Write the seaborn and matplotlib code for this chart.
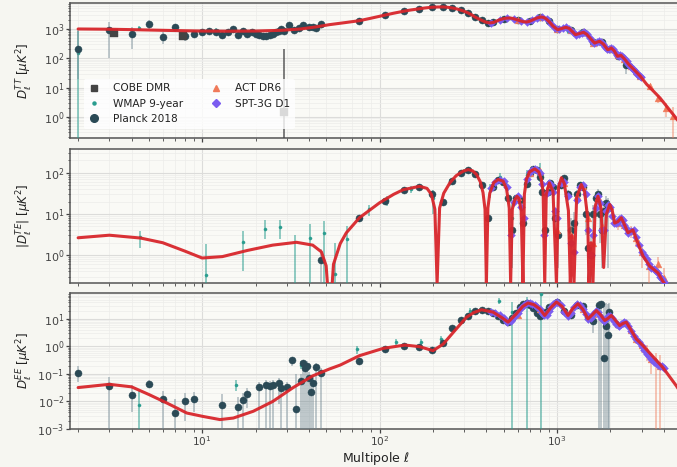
import numpy as np
import pandas as pd
import matplotlib
matplotlib.use("Agg")
import matplotlib.pyplot as plt
import seaborn as sns
from matplotlib.lines import Line2D
from matplotlib.ticker import LogLocator

# ---------------------------------------------------------------- theory curves
tt_theory_ell = [2, 3, 4, 6, 8, 10, 14, 20, 28, 36, 44, 52, 64, 77, 90, 106, 120, 136, 150, 166,
                 180, 196, 212, 227, 242, 258, 274, 289, 302, 316, 330, 345, 360, 376, 396, 418,
                 440, 460, 476, 500, 520, 541, 562, 590, 616, 645, 674, 705, 735, 775, 817, 845,
                 870, 907, 950, 1008, 1060, 1120, 1170, 1220, 1270, 1340, 1410, 1470, 1540, 1630,
                 1690, 1740, 1830, 1930, 1980, 2020, 2100, 2190, 2240, 2290, 2400, 2550, 2750,
                 2950, 3200, 3500, 3810, 4150, 4520, 5000]
tt_theory_dl = [1000, 980, 950, 900, 870, 850, 840, 850, 900, 1000, 1180, 1400, 1650, 1920, 2350,
                2930, 3450, 4010, 4450, 4850, 5200, 5500, 5620, 5650, 5500, 5200, 4800, 4340, 3950,
                3510, 3050, 2570, 2250, 1980, 1720, 1600, 1680, 1900, 2080, 2250, 2340, 2370, 2300,
                2100, 1920, 1780, 1730, 1850, 2080, 2400, 2570, 2450, 2200, 1730, 1250, 950, 1030,
                1140, 1050, 820, 640, 700, 770, 660, 480, 330, 360, 380, 300, 197, 205, 225, 180,
                117, 120, 127, 95, 60, 38, 24.4, 13, 7.5, 4.4, 2.3, 1.2, 0.55]

te_theory_ell = [2, 3, 4.5, 6, 8, 10, 13, 18, 25, 34, 42, 47, 50, 52.5, 55, 60, 65, 77, 100, 120,
                 136, 168, 185, 196, 205, 211, 218, 230, 249, 270, 296, 316, 335, 352, 370, 383,
                 393, 400, 408, 418, 440, 466, 497, 520, 538, 548, 560, 578, 595, 610, 628, 643,
                 655, 673, 700, 749, 790, 815, 835, 853, 870, 905, 950, 993, 1020, 1059, 1100,
                 1160, 1189, 1215, 1247, 1290, 1371, 1430, 1490, 1514, 1555, 1595, 1640, 1702,
                 1770, 1833, 1900, 1982, 2050, 2113, 2200, 2305, 2400, 2513, 2600, 2680, 2850,
                 3055, 3330, 3706, 3955, 4400, 5000]
te_theory_dl = [2.64, 3.05, 2.6, 2.0, 1.25, 0.85, 0.92, 1.3, 1.75, 2.05, 1.75, 1.2, 0.55, 0.03,
                0.6, 1.9, 3.5, 8.1, 18.7, 30, 39, 47, 42, 30, 13, 0.2, 14, 32, 57, 85, 110, 120,
                112, 91, 60, 33, 13, 0.2, 14, 32, 58, 69, 63, 40, 14, 0.2, 13, 22, 27, 24, 12,
                0.2, 30, 70, 105, 125, 105, 70, 35, 0.2, 30, 57, 35, 0.2, 45, 76, 55, 12, 0.2, 3,
                0.2, 25, 52, 35, 8, 0.2, 2, 0.2, 15, 27, 14, 0.5, 10, 17, 12, 6, 6.5, 8.1, 5.5,
                3.5, 3.8, 4.1, 2.0, 0.95, 0.54, 0.37, 0.23, 0.12, 0.06]

ee_theory_ell = [2, 3, 4, 5, 6.3, 8.2, 10, 12.6, 15, 19.4, 25, 32.6, 42, 52, 60, 77, 105, 139,
                 168, 200, 228, 260, 309, 340, 375, 436, 490, 530, 590, 640, 687, 740, 800, 853,
                 920, 993, 1070, 1154, 1230, 1313, 1400, 1495, 1580, 1667, 1760, 1857, 1940, 2024,
                 2140, 2256, 2350, 2459, 2800, 3055, 3955, 4720, 5000]
ee_theory_dl = [0.032, 0.042, 0.034, 0.018, 0.0089, 0.0038, 0.0029, 0.0022, 0.0025, 0.0044,
                0.010, 0.032, 0.085, 0.15, 0.21, 0.46, 0.85, 1.12, 0.98, 0.7, 1.2, 3.2, 11.5, 17,
                21.4, 17.6, 11, 7.6, 15.2, 28, 37.6, 33, 23, 13.3, 25, 41, 28, 13.3, 24, 35.5, 22,
                10, 14, 20, 14, 8.7, 10.5, 13.3, 8.7, 5.7, 6.8, 7.6, 1.86, 1.06, 0.17, 0.036, 0.02]

# ---------------------------------------------------------------- TT band powers
cobe_tt_ell = [3.2, 7.8, 29]
cobe_tt_dl = [730, 590, 1.5]
cobe_tt_lo = [520, 470, 0.001]
cobe_tt_hi = [920, 720, 200]

wmap_tt_ell = [2, 4.4, 12, 25, 47, 77, 137, 227, 316, 418, 541, 674, 817, 1008, 1150]
wmap_tt_dl = [150, 1080, 830, 800, 1300, 1900, 4000, 5600, 3500, 1620, 2350, 1750, 2500, 980, 830]
wmap_tt_lo = [0.001, 900, 600, 650, 1150, 1800, 3850, 5450, 3400, 1550, 2250, 1650, 2350, 880, 700]
wmap_tt_hi = [850, 1250, 1050, 950, 1450, 2000, 4150, 5750, 3600, 1700, 2450, 1850, 2650, 1080, 960]

planck_tt_ell = [2, 3, 4, 5, 6, 7, 8, 9, 10, 11, 12, 13, 14, 15, 16, 17, 18, 19, 20, 21, 22, 23,
                 24, 25, 26, 27, 28, 29, 31, 33, 35, 37, 40, 42, 44, 47, 77, 107, 137, 167, 197,
                 227, 257, 287, 317, 347, 377, 407, 437, 500, 600, 700, 800, 900, 1000, 1200,
                 1400, 1600, 1800, 2000, 2200, 2460]
planck_tt_dl = [215, 920, 680, 1450, 540, 1130, 590, 680, 790, 830, 760, 610, 800, 980, 620, 880,
                660, 800, 700, 620, 590, 560, 600, 650, 790, 820, 1000, 850, 1400, 900, 1050,
                1350, 1200, 1150, 1100, 1500, 1920, 2930, 4010, 4810, 5500, 5620, 5200, 4340,
                3510, 2570, 1980, 1650, 1680, 2250, 2000, 1850, 2550, 1800, 960, 900, 770, 360,
                370, 215, 115, 61]
planck_tt_lo = [20, 100, 200, 1000, 300, 800, 400, 480, 600, 650, 600, 470, 650, 820, 500, 740,
                550, 680, 600, 530, 500, 480, 520, 570, 700, 730, 900, 760, 1280, 820, 960, 1240,
                1110, 1060, 1020, 1400, 1850, 2850, 3920, 4720, 5400, 5520, 5100, 4260, 3440,
                2520, 1940, 1620, 1650, 2210, 1960, 1810, 2500, 1760, 940, 880, 750, 345, 350,
                200, 100, 30]
planck_tt_hi = [900, 1700, 1150, 2000, 800, 1500, 800, 900, 1000, 1020, 940, 760, 960, 1150, 760,
                1040, 790, 930, 810, 720, 690, 650, 690, 740, 890, 920, 1110, 950, 1530, 990,
                1150, 1470, 1300, 1250, 1190, 1610, 2000, 3010, 4100, 4900, 5600, 5720, 5300,
                4420, 3580, 2620, 2020, 1680, 1710, 2290, 2040, 1890, 2600, 1840, 980, 920, 790,
                375, 390, 230, 130, 80]

act_tt_ell = [600, 800, 1000, 1200, 1400, 1600, 1800, 2000, 2200, 2400, 2600, 2800, 2950, 3330,
              3710, 4130, 4505]
act_tt_dl = [2000, 2500, 960, 900, 770, 345, 370, 215, 125, 95, 55, 36, 24, 11, 4.4, 2.0, 1.05]
act_tt_lo = [1960, 2450, 940, 880, 755, 335, 360, 208, 120, 90, 52, 34, 20, 8.5, 3.0, 1.0, 0.001]
act_tt_hi = [2040, 2550, 980, 920, 785, 355, 380, 222, 130, 100, 58, 38, 28, 13.5, 5.8, 3.0, 2.2]

spt_tt_ell = [425, 475, 525, 575, 625, 675, 725, 775, 825, 875, 925, 975, 1025, 1075, 1125, 1175,
              1225, 1275, 1325, 1375, 1425, 1475, 1525, 1575, 1625, 1675, 1725, 1775, 1825, 1875,
              1925, 1975, 2025, 2075, 2125, 2175, 2225, 2275, 2325, 2375, 2425, 2475, 2525, 2575,
              2625, 2675, 2725, 2775, 2825, 2875, 2925, 2975]
spt_tt_dl = [1600, 2070, 2350, 2200, 1880, 1730, 2000, 2400, 2550, 2150, 1500, 1100, 970, 1080,
             1140, 1030, 800, 640, 680, 750, 770, 650, 510, 400, 335, 355, 380, 370, 305, 245,
             200, 205, 225, 200, 160, 125, 118, 125, 122, 105, 90, 78, 65, 56, 50, 44, 39, 34,
             30, 27, 25, 23]

# ---------------------------------------------------------------- TE band powers (|D_l|)
wmap_te_ell = [4.46, 10.5, 16.9, 22.6, 27.4, 33.3, 40.4, 48.5, 55.8, 65.6, 87, 110, 150, 200,
               250, 300, 350, 420, 480, 560, 680, 800]
wmap_te_dl = [2.75, 0.32, 2.1, 4.2, 4.9, 0.1, 2.6, 3.5, 0.34, 2.5, 12.9, 22, 40, 25, 60, 110,
              90, 40, 80, 8, 90, 110]
wmap_te_lo = [1.5, 0.001, 0.4, 2.5, 2.5, 0.001, 0.001, 0.001, 0.001, 0.001, 9, 16, 32, 10, 48,
              95, 75, 25, 60, 0.5, 60, 60]
wmap_te_hi = [3.8, 1.9, 3.8, 7.0, 7.2, 3.0, 5.6, 6.8, 2.0, 5.0, 17, 28, 48, 38, 72, 125, 105,
              55, 100, 20, 120, 170]

planck_te_ell = [47, 77, 107, 137, 167, 197, 227, 257, 287, 317, 347, 377, 407, 437, 467, 497,
                 527, 557, 587, 617, 647, 677, 707, 737, 767, 797, 827, 857, 887, 917, 947, 977,
                 1007, 1050, 1100, 1150, 1200, 1250, 1300, 1350, 1400, 1450, 1500, 1550, 1600,
                 1650, 1700, 1750, 1800, 1850, 1900, 1950]
planck_te_dl = [0.76, 7.8, 21, 38, 46, 30, 20, 62, 100, 118, 96, 50, 8, 45, 68, 60, 25, 4, 24, 22,
                6, 55, 100, 122, 118, 80, 35, 4, 35, 57, 45, 8, 3, 50, 74, 30, 4, 6, 30, 52, 45,
                10, 1.5, 1.0, 10, 25, 30, 10, 4, 12, 18, 14]
planck_te_lo = [0.2, 6.5, 19, 36, 44, 28, 18, 59, 97, 115, 93, 47, 5, 42, 65, 57, 22, 1.5, 20, 18,
                3, 50, 95, 117, 112, 75, 30, 1, 29, 51, 38, 3, 0.5, 42, 66, 22, 0.3, 1.5, 22, 44,
                36, 3, 0.1, 0.2, 3, 16, 20, 2, 0.5, 3, 8, 0.5]
planck_te_hi = [1.4, 9.2, 23, 40, 48, 32, 22, 65, 103, 121, 99, 53, 11, 48, 71, 63, 28, 6.5, 28, 26,
                9, 60, 105, 127, 124, 85, 40, 7, 41, 63, 52, 13, 6, 58, 82, 38, 8, 11, 38, 60, 54,
                17, 4, 3, 17, 34, 40, 18, 8, 21, 28, 24]

act_te_ell = [600, 700, 800, 900, 1000, 1100, 1200, 1300, 1400, 1500, 1600, 1700, 1800, 2000,
              2200, 2400, 2600, 2800, 3000, 3300, 3700, 4000]
act_te_dl = [26, 100, 110, 52, 4, 58, 3, 28, 48, 8, 2, 26, 5, 16, 6, 5.5, 3.8, 2.6, 1.2, 0.55,
             0.6, 0.28]
act_te_lo = [24, 96, 106, 48, 2, 54, 1, 24, 44, 5, 0.5, 22, 2, 13, 4, 4, 2.6, 1.6, 0.5, 0.2, 0.3,
             0.01]
act_te_hi = [28, 104, 114, 56, 6, 62, 5, 32, 52, 11, 4, 30, 8, 19, 8, 7, 5, 3.6, 1.9, 0.9, 0.9,
             0.5]

spt_te_ell = [425, 450, 475, 500, 525, 550, 575, 600, 625, 650, 675, 700, 725, 750, 775, 800,
              825, 850, 875, 900, 925, 950, 975, 1000, 1050, 1100, 1150, 1200, 1250, 1300, 1350,
              1400, 1450, 1500, 1550, 1600, 1650, 1700, 1750, 1800, 1850, 1900, 1950, 2000, 2050,
              2100, 2150, 2200, 2250, 2300, 2350, 2400, 2450, 2500, 2600, 2700, 2800, 2900, 3000,
              3100, 3200, 3300, 3400, 3500, 3600, 3700, 3800, 3900, 4000]
spt_te_dl = [43, 60, 68, 63, 45, 3, 20, 27, 15, 8, 70, 103, 120, 124, 115, 98, 55, 3, 32, 56, 50,
             35, 12, 8, 58, 60, 28, 2, 1.2, 22, 46, 50, 30, 4, 1.0, 3, 14, 27, 18, 4, 4, 12, 17,
             15, 9, 6, 6, 6.5, 7.5, 8, 7, 5.5, 4.5, 3.5, 3.8, 4.0, 2.7, 1.8, 1.2, 1.0, 0.8, 0.6,
             0.5, 0.45, 0.4, 0.37, 0.3, 0.26, 0.22]

# ---------------------------------------------------------------- EE band powers
wmap_ee_ell = [4.4, 15.5, 36, 74.5, 124, 171, 222, 323, 473, 555, 680, 810]
wmap_ee_dl = [0.0077, 0.040, 0.22, 0.8, 1.5, 1.5, 1.8, 19, 45, 17.7, 30, 83]
wmap_ee_lo = [0.0001, 0.025, 0.15, 0.55, 1.1, 1.1, 1.2, 13, 35, 0.0001, 0.0001, 0.0001]
wmap_ee_hi = [0.024, 0.062, 0.3, 1.05, 1.9, 1.9, 2.4, 25, 55, 40, 60, 120]

planck_ee_ell = [2, 3, 4, 5, 6, 7, 8, 9, 13, 16, 17, 18, 21, 23, 24, 25, 27, 28, 30, 32, 34, 36,
                 37, 38, 39, 40, 41, 42, 44, 47, 77, 107, 137, 167, 197, 227, 257, 287, 317, 347,
                 377, 407, 437, 467, 497, 527, 557, 587, 617, 647, 677, 707, 737, 767, 797, 827,
                 857, 900, 1000, 1100, 1200, 1300, 1400, 1500, 1597, 1725, 1780, 1835, 1900,
                 1950, 1960]
planck_ee_dl = [0.11, 0.036, 0.0174, 0.044, 0.0126, 0.0037, 0.0100, 0.0126, 0.0077, 0.0063,
                0.0115, 0.018, 0.033, 0.040, 0.036, 0.040, 0.048, 0.032, 0.033, 0.31, 0.0054,
                0.055, 0.25, 0.16, 0.2, 0.07, 0.022, 0.045, 0.18, 0.11, 0.3, 0.8, 1.05, 0.98,
                0.72, 1.3, 4.5, 9, 13, 19, 21, 19, 16, 13, 9, 7.5, 11, 17, 28, 36, 37, 32, 24, 16,
                13, 14, 18, 26, 40, 20, 14, 31, 30, 12, 8.7, 31, 35, 0.37, 5.3, 2.5, 17.6]
planck_ee_lo = [0.05, 0.0001, 0.004, 0.03, 0.0001, 0.0001, 0.002, 0.004, 0.0001, 0.0001, 0.0001,
                0.006, 0.0001, 0.0001, 0.0001, 0.0001, 0.008, 0.0001, 0.0001, 0.2, 0.0001,
                0.0001, 0.0001, 0.0001, 0.0001, 0.0001, 0.0001, 0.0001, 0.0001, 0.0001, 0.22,
                0.7, 0.95, 0.9, 0.65, 1.2, 4.2, 8.5, 12.5, 18.3, 20.2, 18.2, 15.2, 12.2, 8.4,
                6.9, 10.2, 16, 26.5, 34.5, 35.5, 30.5, 22.5, 14.8, 11.5, 12, 15, 23, 36, 17, 11,
                26, 24, 7, 3, 0.0001, 0.0001, 0.0001, 0.0001, 0.0001, 0.0001]
planck_ee_hi = [0.2, 0.08, 0.04, 0.06, 0.025, 0.012, 0.02, 0.023, 0.018, 0.015, 0.02, 0.03,
                0.05, 0.06, 0.055, 0.06, 0.07, 0.05, 0.05, 0.38, 0.1, 0.1, 0.3, 0.25, 0.3, 0.12,
                0.07, 0.08, 0.25, 0.16, 0.38, 0.9, 1.15, 1.06, 0.8, 1.4, 4.8, 9.5, 13.5, 19.7,
                21.8, 19.8, 16.8, 13.8, 9.6, 8.1, 11.8, 18, 29.5, 37.5, 38.5, 33.5, 25.5, 17.2,
                14.5, 16, 21, 29, 44, 23, 17, 36, 36, 17, 15, 45, 42, 30, 38, 35, 38]

act_ee_ell = [600, 800, 1000, 1200, 1400, 1600, 1800, 2000, 2200, 2400, 2600, 2800, 3000, 3200,
              3400, 3600, 3800]
act_ee_dl = [14, 23, 40, 21, 22, 15, 12, 13, 6.5, 7.2, 4.0, 1.8, 1.1, 0.7, 0.35, 0.3, 0.2]
act_ee_lo = [13, 22, 38, 20, 20.5, 13.5, 10.5, 11.5, 5.5, 6.0, 3.0, 1.2, 0.6, 0.3, 0.1, 0.001,
             0.001]
act_ee_hi = [15, 24, 42, 22, 23.5, 16.5, 13.5, 14.5, 7.5, 8.4, 5.0, 2.4, 1.6, 1.1, 0.6, 0.6, 0.5]

spt_ee_ell = [425, 450, 475, 500, 525, 550, 575, 600, 625, 650, 675, 700, 725, 750, 775, 800, 825,
              850, 875, 900, 925, 950, 975, 1000, 1050, 1100, 1150, 1200, 1250, 1300, 1350, 1400,
              1450, 1500, 1550, 1600, 1650, 1700, 1750, 1800, 1850, 1900, 1950, 2000, 2050, 2100,
              2150, 2200, 2250, 2300, 2350, 2400, 2450, 2500, 2600, 2700, 2800, 2900, 3000, 3100,
              3200, 3300, 3400, 3500, 3600, 3700, 3800, 3900, 4000]
spt_ee_dl = [18, 16, 14, 11, 8, 8.5, 12, 16, 24, 31, 37, 38, 36, 31, 27, 22, 17, 13.5, 14, 19, 27,
             34, 39, 41, 32, 18, 13, 17, 26, 35, 33, 23, 15, 10, 11, 15, 20, 18, 13, 10, 8.7,
             10, 12.5, 13, 11, 8.5, 6.5, 5.8, 5.7, 6.5, 7.3, 7.6, 7, 5.5, 3.5, 2.4, 1.8, 1.4,
             1.05, 0.75, 0.55, 0.45, 0.35, 0.28, 0.25, 0.22, 0.2, 0.19, 0.17]

# ---------------------------------------------------------------- styling
FIG_BG = "#f6f6f1"
AX_BG = "#fafaf6"
C_COBE = "#444444"
C_WMAP = "#2a9d8f"
C_PLANCK = "#2b4a56"
C_PLANCK_ERR = "#6e8590"
C_ACT = "#f07a5a"
C_SPT = "#7b5cf0"
C_THEORY = "#d8262b"

sns.set_theme(style="whitegrid")
plt.rcParams.update({
    "font.family": ["DejaVu Sans"],
    "figure.facecolor": FIG_BG,
    "axes.facecolor": AX_BG,
    "axes.edgecolor": "#555555",
    "axes.linewidth": 1.1,
    "xtick.bottom": True,
    "ytick.left": True,
    "xtick.color": "#444444",
    "ytick.color": "#444444",
    "xtick.labelsize": 7.6,
    "ytick.labelsize": 8,
    "axes.labelsize": 8.6,
    "text.color": "#222222",
    "axes.labelcolor": "#222222",
})

fig = plt.figure(figsize=(6.77, 4.67), dpi=100)
W, H = 677.0, 467.0
x0, x1 = 70, 681


def make_axes(top, bottom):
    return fig.add_axes([x0 / W, 1 - bottom / H, (x1 - x0) / W, (bottom - top) / H])


ax_tt = make_axes(3, 138)
ax_te = make_axes(149, 283)
ax_ee = make_axes(293, 429)


def band(ax, ell, dl, lo, hi, color, ecolor, marker, ms, z, elw=1.2, ealpha=0.5):
    ell = np.asarray(ell, float)
    dl = np.asarray(dl, float)
    yerr = np.vstack([dl - np.asarray(lo, float), np.asarray(hi, float) - dl])
    ax.errorbar(ell, dl, yerr=yerr, fmt="none", ecolor=ecolor,
                elinewidth=elw, alpha=ealpha, zorder=z)
    sns.scatterplot(x=ell, y=dl, ax=ax, marker=marker, s=ms, color=color,
                    edgecolor=color, linewidth=0.3, zorder=z + 0.5, legend=False)


def theory(ax, ell, dl):
    df = pd.DataFrame({"ell": ell, "dl": dl})
    sns.lineplot(data=df, x="ell", y="dl", ax=ax, color=C_THEORY, lw=2.2, sort=False,
                 zorder=10, alpha=0.95)


# TT panel
band(ax_tt, wmap_tt_ell, wmap_tt_dl, wmap_tt_lo, wmap_tt_hi, C_WMAP, C_WMAP, "o", 5, 3, ealpha=0.6)
band(ax_tt, planck_tt_ell, planck_tt_dl, planck_tt_lo, planck_tt_hi, C_PLANCK, C_PLANCK_ERR, "o", 26, 4)
band(ax_tt, act_tt_ell, act_tt_dl, act_tt_lo, act_tt_hi, C_ACT, C_ACT, "^", 24, 5)
band(ax_tt, spt_tt_ell, spt_tt_dl, spt_tt_dl, spt_tt_dl, C_SPT, C_SPT, "D", 16, 6)
band(ax_tt, cobe_tt_ell, cobe_tt_dl, cobe_tt_lo, cobe_tt_hi, C_COBE, C_COBE, "s", 26, 7, ealpha=0.8)
theory(ax_tt, tt_theory_ell, tt_theory_dl)

# TE panel
band(ax_te, wmap_te_ell, wmap_te_dl, wmap_te_lo, wmap_te_hi, C_WMAP, C_WMAP, "o", 5, 3, ealpha=0.6)
band(ax_te, planck_te_ell, planck_te_dl, planck_te_lo, planck_te_hi, C_PLANCK, C_PLANCK_ERR, "o", 26, 4)
band(ax_te, act_te_ell, act_te_dl, act_te_lo, act_te_hi, C_ACT, C_ACT, "^", 24, 5)
band(ax_te, spt_te_ell, spt_te_dl, spt_te_dl, spt_te_dl, C_SPT, C_SPT, "D", 16, 6)
theory(ax_te, te_theory_ell, te_theory_dl)

# EE panel
band(ax_ee, wmap_ee_ell, wmap_ee_dl, wmap_ee_lo, wmap_ee_hi, C_WMAP, C_WMAP, "o", 5, 3, ealpha=0.6)
band(ax_ee, planck_ee_ell, planck_ee_dl, planck_ee_lo, planck_ee_hi, C_PLANCK, C_PLANCK_ERR, "o", 26, 4)
band(ax_ee, act_ee_ell, act_ee_dl, act_ee_lo, act_ee_hi, C_ACT, C_ACT, "^", 24, 5)
band(ax_ee, spt_ee_ell, spt_ee_dl, spt_ee_dl, spt_ee_dl, C_SPT, C_SPT, "D", 16, 6)
theory(ax_ee, ee_theory_ell, ee_theory_dl)

limits = {ax_tt: (0.19, 7700), ax_te: (0.21, 380), ax_ee: (1e-3, 87)}
labels = {ax_tt: r"$D_\ell^{TT}$ [$\mu K^2$]",
          ax_te: r"$|D_\ell^{TE}|$ [$\mu K^2$]",
          ax_ee: r"$D_\ell^{EE}$ [$\mu K^2$]"}

for ax in (ax_tt, ax_te, ax_ee):
    ax.set_xscale("log")
    ax.set_yscale("log")
    ax.set_xlim(1.8, 5000)
    ax.set_ylim(*limits[ax])
    ax.set_ylabel(labels[ax])
    ax.set_xlabel("")
    ax.grid(True, which="major", color="#dcdcda", lw=0.8)
    ax.grid(True, which="minor", color="#ececea", lw=0.5)
    ax.xaxis.set_minor_locator(LogLocator(base=10, subs=np.arange(2, 10)))
    ax.yaxis.set_minor_locator(LogLocator(base=10, subs=np.arange(2, 10), numticks=20))
    ax.yaxis.set_major_locator(LogLocator(base=10, numticks=20))
    ax.tick_params(which="major", length=3, width=0.9, direction="out", pad=1)
    ax.tick_params(which="minor", length=1.8, width=0.6, direction="out")
    ax.spines["right"].set_visible(False)
    for s in ("left", "bottom", "top"):
        ax.spines[s].set_color("#555555")
    ax.yaxis.set_label_coords(-0.058, 0.5)

for ax in (ax_tt, ax_te):
    ax.tick_params(axis="x", labelbottom=False)
ax_ee.set_xlabel(r"Multipole $\ell$", fontsize=9)
ax_ee.xaxis.set_label_coords(0.5, -0.158)

handles = [
    Line2D([], [], ls="none", marker="s", ms=5, color=C_COBE),
    Line2D([], [], ls="none", marker="o", ms=2.2, color=C_WMAP),
    Line2D([], [], ls="none", marker="o", ms=5.5, color=C_PLANCK),
    Line2D([], [], ls="none", marker="^", ms=5, color=C_ACT),
    Line2D([], [], ls="none", marker="D", ms=4.5, color=C_SPT),
]
names = ["COBE DMR", "WMAP 9-year", "Planck 2018", "ACT DR6", "SPT-3G D1"]
leg = ax_tt.legend(handles, names, ncol=2, loc="lower left", bbox_to_anchor=(0.014, 0.03),
                   fontsize=7.6, frameon=True, framealpha=0.8, facecolor="white",
                   edgecolor="none", handlelength=1.0, handletextpad=1.3, columnspacing=2.6,
                   labelspacing=0.5, borderpad=0.45)
leg.set_zorder(20)

fig.savefig("out.png", dpi=100, facecolor=FIG_BG)
